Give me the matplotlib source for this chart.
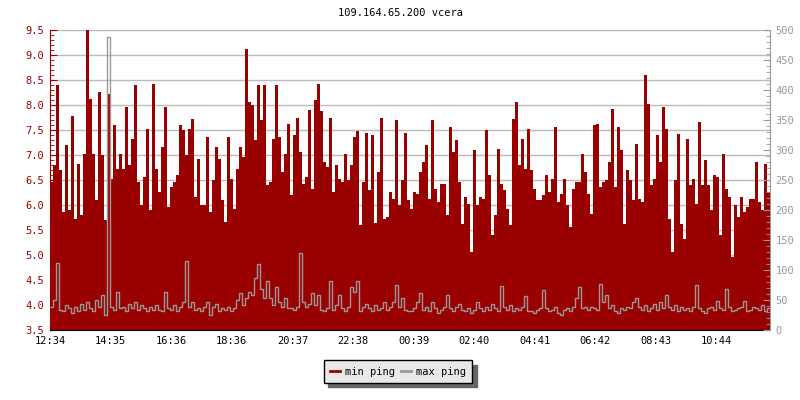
import numpy as np
import matplotlib
matplotlib.use('Agg')
from matplotlib import pyplot as plt

plt.rcParams['font.family'] = ['DejaVu Sans Mono']
plt.rcParams['font.size'] = 7.5

title = '109.164.65.200 vcera'

# min ping [ms], one value per 6 minutes, left axis
min_ping = [
    6.47, 6.8, 8.4, 6.7, 5.87, 7.2, 5.9, 7.78, 5.73, 6.83, 5.8, 7.03, 9.5, 8.13, 7.03, 6.1, 8.27, 7.0, 5.7, 8.23,
    6.53, 7.6, 6.73, 7.03, 6.73, 7.97, 6.8, 7.33, 8.4, 6.47, 6.0, 6.57, 7.53, 5.9, 8.43, 6.73, 6.27, 7.17, 7.97, 5.97,
    6.37, 6.47, 6.6, 7.6, 7.5, 7.0, 7.53, 7.73, 6.17, 6.93, 6.0, 6.0, 7.37, 5.87, 6.5, 7.17, 6.93, 6.1, 5.67, 7.37,
    6.53, 5.93, 6.73, 7.17, 6.97, 9.13, 8.07, 8.0, 7.3, 8.4, 7.7, 8.4, 6.4, 6.47, 7.33, 8.4, 7.37, 6.67, 7.03, 7.63,
    6.2, 7.4, 7.75, 7.07, 6.43, 6.57, 7.9, 6.33, 8.1, 8.43, 7.88, 6.87, 6.77, 7.75, 6.27, 6.8, 6.53, 6.47, 7.03, 6.5,
    6.8, 7.37, 7.48, 5.6, 6.47, 7.45, 6.3, 7.4, 5.65, 6.67, 7.75, 5.73, 5.77, 6.27, 6.13, 7.7, 6.0, 6.5, 7.45, 6.1,
    5.93, 6.27, 6.23, 6.67, 6.87, 7.2, 6.13, 7.7, 6.33, 6.07, 6.43, 6.43, 5.8, 7.57, 7.07, 7.3, 6.47, 5.63, 6.17, 6.03,
    5.07, 7.1, 6.0, 6.17, 6.13, 7.5, 6.6, 5.4, 5.8, 7.13, 6.43, 6.3, 5.93, 5.6, 7.73, 8.07, 6.8, 7.33, 6.73, 7.53,
    6.7, 6.33, 6.1, 6.1, 6.2, 6.6, 6.27, 6.53, 7.57, 6.07, 6.23, 6.53, 6.0, 5.57, 6.33, 6.47, 6.47, 7.03, 6.67, 6.23,
    5.83, 7.6, 7.63, 6.37, 6.47, 6.5, 6.87, 7.93, 6.37, 7.57, 7.1, 5.63, 6.7, 6.5, 6.1, 7.23, 6.13, 6.07, 8.61, 8.03,
    6.4, 6.53, 7.4, 6.87, 7.97, 7.52, 5.73, 5.07, 6.5, 7.43, 5.63, 5.33, 7.33, 6.4, 6.53, 6.03, 7.67, 6.4, 6.9, 6.4,
    5.9, 6.6, 6.57, 5.4, 7.03, 6.33, 6.17, 4.97, 6.0, 5.77, 6.17, 5.87, 5.97, 6.13, 6.13, 6.87, 6.07, 5.9, 6.83, 6.27,
]

# max ping [ms], right axis
max_ping = [
    39, 50, 111, 33, 31, 42, 36, 28, 39, 31, 44, 33, 47, 36, 31, 50, 39, 58, 25, 489,
    39, 33, 64, 36, 39, 31, 44, 36, 47, 33, 42, 36, 31, 39, 33, 42, 33, 31, 64, 36,
    33, 42, 31, 39, 47, 115, 39, 47, 33, 36, 31, 39, 47, 25, 39, 44, 31, 36, 33, 39,
    31, 36, 50, 61, 42, 53, 64, 58, 86, 110, 69, 53, 81, 53, 42, 72, 47, 39, 53, 36,
    36, 33, 39, 129, 47, 39, 44, 61, 42, 58, 33, 31, 36, 82, 33, 42, 58, 36, 31, 39,
    72, 64, 82, 31, 39, 44, 36, 31, 42, 33, 36, 47, 33, 39, 47, 75, 39, 53, 33, 31,
    31, 36, 47, 61, 33, 39, 31, 47, 36, 28, 33, 39, 59, 36, 31, 39, 44, 33, 31, 36,
    28, 33, 47, 36, 31, 39, 33, 44, 36, 31, 73, 39, 33, 42, 31, 36, 33, 39, 57, 31,
    31, 28, 33, 36, 67, 36, 31, 33, 39, 28, 25, 33, 36, 31, 39, 53, 72, 36, 39, 33,
    39, 36, 33, 77, 47, 58, 36, 42, 31, 28, 36, 33, 39, 36, 47, 53, 39, 33, 42, 31,
    36, 44, 33, 47, 36, 59, 39, 33, 42, 31, 39, 33, 36, 31, 39, 75, 36, 31, 28, 36,
    39, 33, 48, 36, 33, 69, 39, 31, 33, 36, 39, 49, 31, 33, 39, 36, 33, 42, 31, 36,
]

time_labels = ['12:34', '14:35', '16:36', '18:36', '20:37', '22:38',
               '00:39', '02:40', '04:41', '06:42', '08:43', '10:44']

red = '#990000'
gray = '#999999'

step = 1440 / len(min_ping)
edges = np.arange(len(min_ping) + 1) * step

fig = plt.figure(figsize=(8, 4), dpi=100)
ax = fig.add_axes([0.0625, 0.175, 0.9, 0.75])
ax.set_axisbelow(True)
ax.stairs(min_ping, edges, fill=True, color=red, baseline=0, label='min ping')
ax.set_xlim(0, 1440)
ax.set_ylim(3.5, 9.5)
ax.set_yticks(np.arange(3.5, 9.51, 0.5))
ax.set_yticks(np.arange(3.5, 9.51, 0.1), minor=True)
ax.yaxis.set_major_formatter(matplotlib.ticker.FormatStrFormatter('%.1f'))
ax.set_xticks(np.arange(len(time_labels)) * 121.2)
ax.set_xticklabels(time_labels)
ax.grid(axis='y', color='#bbbbbb', lw=1)
ax.tick_params(axis='y', which='both', direction='in', colors=red, pad=4)
ax.tick_params(axis='y', which='major', length=5)
ax.tick_params(axis='y', which='minor', length=3)
ax.tick_params(axis='x', direction='in', length=5, colors='black', pad=4)
ax.spines['left'].set_color(red)
ax.spines['bottom'].set_color('black')
ax.spines['top'].set_visible(False)
ax.spines['right'].set_visible(False)

ax2 = ax.twinx()
ax2.stairs(max_ping, edges, color=gray, lw=1, baseline=None, label='max ping')
ax2.set_ylim(0, 500)
ax2.set_yticks(np.arange(0, 501, 50))
ax2.set_yticks(np.arange(0, 501, 10), minor=True)
ax2.tick_params(axis='y', which='both', direction='in', colors=gray, pad=4)
ax2.tick_params(axis='y', which='major', length=5)
ax2.tick_params(axis='y', which='minor', length=3)
ax2.spines['right'].set_color(gray)
ax2.spines['left'].set_visible(False)
ax2.spines['top'].set_visible(False)
ax2.spines['bottom'].set_visible(False)

fig.text(0.5, 0.9675, title, ha='center', va='center')

h1 = plt.Line2D([], [], color=red, lw=2)
h2 = plt.Line2D([], [], color=gray, lw=2)
fig.legend([h1, h2], ['min ping', 'max ping'], loc='center', bbox_to_anchor=(0.4975, 0.071),
           ncol=2, fancybox=False, shadow={'color': '#666666', 'alpha': 1, 'ox': 3, 'oy': -3},
           facecolor='#e8e8e8', edgecolor='black', framealpha=1, fontsize=7.5,
           handlelength=1.0, handletextpad=0.5, columnspacing=0.5, borderpad=0.6, borderaxespad=0)

plt.savefig('out.png', dpi=100)
